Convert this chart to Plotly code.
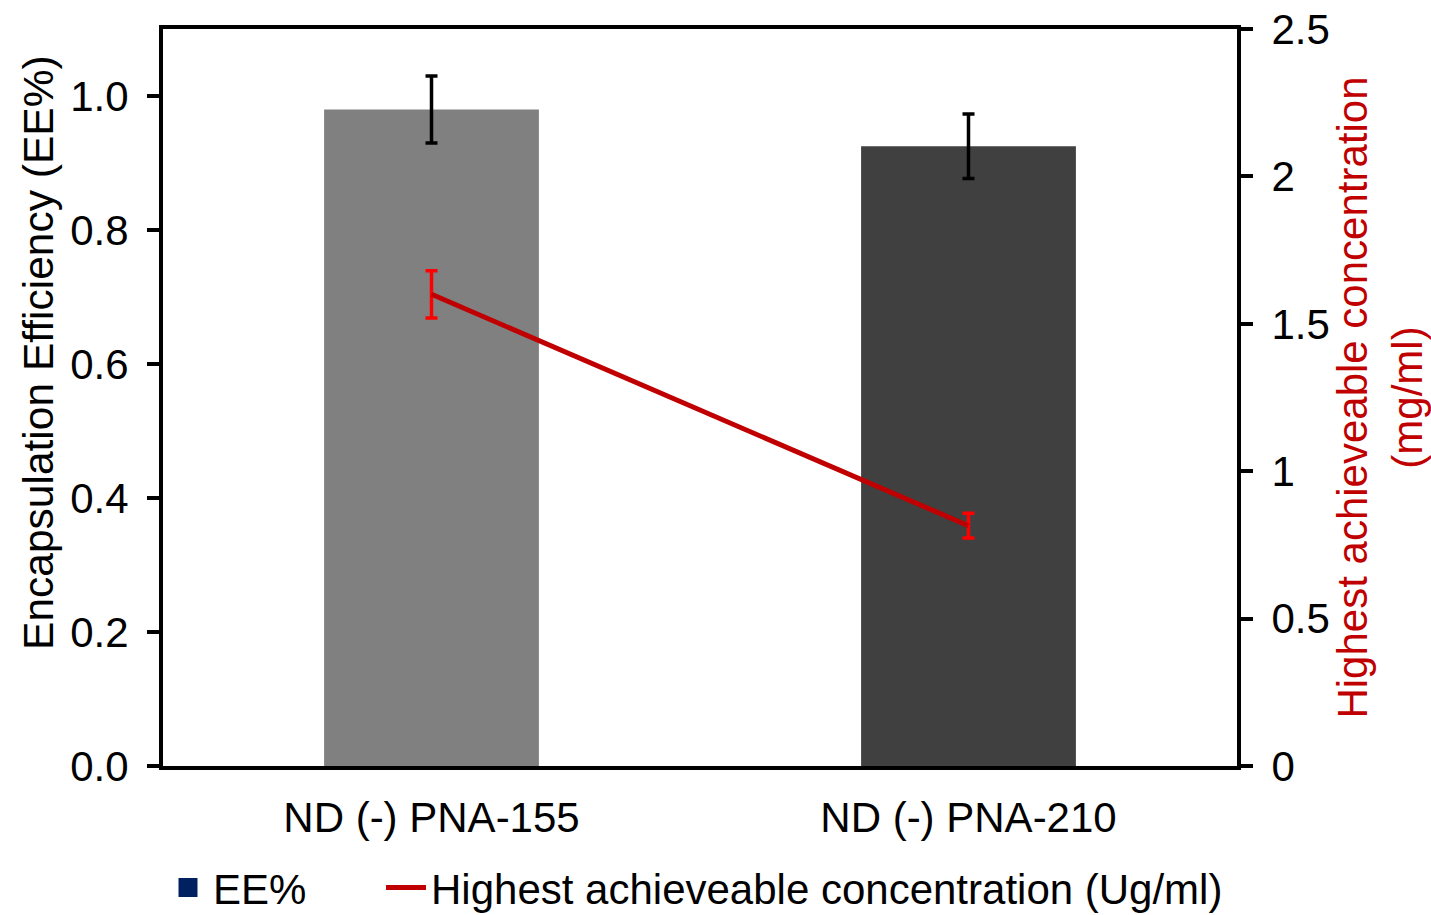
import plotly.graph_objects as go

categories = ["ND (-) PNA-155", "ND (-) PNA-210"]
ee_values = [0.98, 0.925]
ee_errors = [0.05, 0.048]
bar_colors = ["#808080", "#404040"]
conc_values = [1.60, 0.815]
conc_errors = [0.08, 0.042]
left_ticks = [0.0, 0.2, 0.4, 0.6, 0.8, 1.0]
right_ticks = [0, 0.5, 1, 1.5, 2, 2.5]
right_tick_text = ["0", "0.5", "1", "1.5", "2", "2.5"]
left_title = "Encapsulation Efficiency (EE%)"
right_title = "Highest achieveable concentration<br>(mg/ml)"

FONT = "Liberation Sans, Arial, sans-serif"
FS = 42

fig = go.Figure()

fig.add_trace(go.Bar(
    x=categories, y=ee_values, width=0.4,
    marker=dict(color=bar_colors, line=dict(width=0)),
    error_y=dict(type="data", array=ee_errors, color="black", thickness=3.5, width=6),
    showlegend=False, yaxis="y",
))

# legend entry for EE%
fig.add_trace(go.Scatter(
    x=[None], y=[None], mode="markers", name="EE%",
    marker=dict(symbol="square", size=16, color="#002060",
                line=dict(color="#002060", width=3)),
    yaxis="y", legend="legend",
))

fig.add_trace(go.Scatter(
    x=categories, y=conc_values, mode="lines",
    name="Highest achieveable concentration (Ug/ml)",
    line=dict(color="#C00000", width=5),
    error_y=dict(type="data", array=conc_errors, color="#FF0000", thickness=3.5, width=6),
    yaxis="y2", legend="legend2",
))

legend_common = dict(
    orientation="h", yanchor="middle",
    font=dict(family=FONT, size=FS, color="black"),
    itemwidth=40, bgcolor="rgba(0,0,0,0)",
)

fig.update_layout(
    width=1431, height=915,
    margin=dict(l=163, r=194, t=29, b=149, autoexpand=False),
    paper_bgcolor="white", plot_bgcolor="white",
    font=dict(family=FONT, size=FS, color="black"),
    xaxis=dict(
        type="category", range=[-0.5, 1.5], automargin=False,
        showline=True, linecolor="black", linewidth=4, mirror=True,
        ticks="", showgrid=False, zeroline=False,
        ticklabelstandoff=12,
        tickfont=dict(family=FONT, size=FS, color="black"),
    ),
    yaxis=dict(
        range=[0, 1.1], tickvals=left_ticks, tickformat=".1f", automargin=False,
        showline=True, linecolor="black", linewidth=4,
        ticks="outside", ticklen=12, tickwidth=4, tickcolor="black",
        showgrid=False, zeroline=False,
        ticklabelstandoff=10,
        tickfont=dict(family=FONT, size=FS, color="black"),
    ),
    yaxis2=dict(
        range=[0, 2.5], tickvals=right_ticks, ticktext=right_tick_text, automargin=False,
        overlaying="y", side="right",
        showline=True, linecolor="black", linewidth=4,
        ticks="outside", ticklen=12, tickwidth=4, tickcolor="black",
        showgrid=False, zeroline=False,
        ticklabelstandoff=10,
        tickfont=dict(family=FONT, size=FS, color="black"),
        title=dict(text=right_title,
                   font=dict(family=FONT, size=FS, color="#C00000"), standoff=22),
    ),
    legend=dict(x=0.0, xanchor="left", y=-0.165, **legend_common),
    legend2=dict(x=0.203, xanchor="left", y=-0.165, **legend_common),
    annotations=[dict(
        text=left_title, textangle=-90, showarrow=False,
        xref="paper", yref="paper", x=-0.1165, y=0.5617,
        xanchor="center", yanchor="middle",
        font=dict(family=FONT, size=42.5, color="black"),
    )],
    bargap=0.2,
)

fig.write_html("out.html", config={"displayModeBar": False},
               post_script="document.body.style.margin='0';")
